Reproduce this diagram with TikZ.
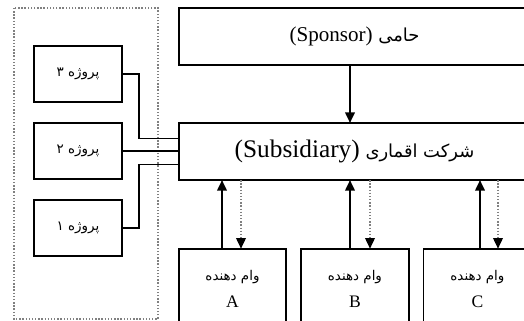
\documentclass[tikz,border=0pt]{standalone}
\usepackage{fontspec}
\setmainfont{Liberation Serif}
\newfontfamily\arabicfont[Script=Arabic,Scale=0.85]{DejaVu Sans}
\TeXXeTstate=1
\usetikzlibrary{arrows.meta,positioning}
\tikzstyle{box}=[draw,line width=1pt,fill=white,inner sep=0pt]
\tikzstyle{proj}=[box,minimum width=1.76cm,minimum height=1.12cm,font=\small]
\tikzstyle{wide}=[inner sep=0pt,minimum width=7.02cm,minimum height=1.13cm]
\tikzstyle{lender}=[inner sep=0pt,minimum width=2.14cm,minimum height=1.6cm,align=center]
\tikzstyle{frame}=[line width=1pt]
\tikzstyle{link}=[line width=.9pt]
\tikzstyle{back}=[draw=black!50,densely dotted,line width=.8pt]

\begin{document}
\begin{tikzpicture}[x=0.02cm, y=-0.02cm, on grid, node distance=1.54cm,
    >={Triangle[length=6pt,width=5.5pt]}]
  \useasboundingbox (0,0) rectangle (524,321);
  \clip (0,0) rectangle (524,321);
  \draw[back] (14,8) rectangle (158,319);

  % projects
  \node[proj] (p2) at (78,151) {\arabicfont\beginR پروژه ۲\endR};
  \node[proj, above=of p2] (p3) {\arabicfont\beginR پروژه ۳\endR};
  \node[proj, below=of p2] (p1) {\arabicfont\beginR پروژه ۱\endR};

  \node[wide] (sp) at (354.5,36.5)
    {\large\arabicfont\beginR حامی {\rmfamily\beginL(Sponsor)\endL}\endR};
  \node[wide] (sub) at (354.5,151.5)
    {\large\arabicfont\beginR شرکت اقماری {\Large\rmfamily\beginL(Subsidiary)\endL}\endR};

  % lenders
  \node[lender] (lA) at (232.5,289) {{\small\arabicfont\beginR وام دهنده\endR}\\[3pt] A};
  \node[lender, right=of lA, xshift=.91cm] (lB) {{\small\arabicfont\beginR وام دهنده\endR}\\[3pt] B};
  \node[lender, right=of lB, xshift=.91cm] (lC) {{\small\arabicfont\beginR وام دهنده\endR}\\[3pt] C};

  % boxes run off the page
  \foreach \n in {sp,sub}
    \draw[frame] (\n.north east) -- (\n.north west) -- (\n.south west) -- (\n.south east);
  \foreach \n in {lA,lB,lC}
    \draw[frame] (\n.south west) -- (\n.north west) -- (\n.north east) -- (\n.south east);

  \draw[->,link] (sp.south -| 350,0) -- (sub.north -| 350,0);

  \draw[link] (p3.east) -- ++(16,0) |- ([yshift=7.4pt]sub.west);
  \draw[link] (p2.east) -- (p2.east -| sub.west);
  \draw[link] (p1.east) -- ++(16,0) |- ([yshift=-7.4pt]sub.west);

  \foreach \n/\u/\d in {lA/222/241, lB/350/370, lC/480/498} {
    \draw[->,link] (\n.north -| \u,0) -- (sub.south -| \u,0);
    \draw[back,-{Triangle[length=6pt,width=5.5pt,color=black,fill=black]}]
      (sub.south -| \d,0) -- (\n.north -| \d,0);
  }
\end{tikzpicture}
\end{document}
